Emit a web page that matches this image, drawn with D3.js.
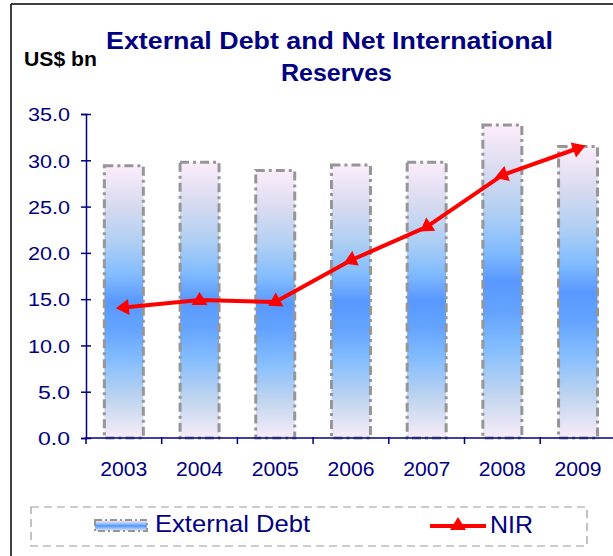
<!DOCTYPE html>
<html>
<head>
<meta charset="utf-8">
<script src="https://cdn.jsdelivr.net/npm/d3@7"></script>
<style>
  html, body { margin: 0; padding: 0; background: #fff; }
  svg { display: block; }
  text { font-family: "Liberation Sans", Arial, sans-serif; }
</style>
</head>
<body>
<svg id="chart" width="613" height="556"></svg>
<script>
// Annual figures, US$ billions
const years = ["2003", "2004", "2005", "2006", "2007", "2008", "2009"];
const externalDebt = [29.4, 29.8, 28.9, 29.5, 29.8, 33.8, 31.5];
const nir = [14.1, 14.9, 14.7, 19.2, 22.8, 28.4, 31.3];
const yTicks = [0, 5, 10, 15, 20, 25, 30, 35];
const titleLines = ["External Debt and Net International", "Reserves"];
const unitLabel = "US$ bn";
const legendLabels = ["External Debt", "NIR"];

const NAVY = "#000080";
const svg = d3.select("#chart");

// outer frame (left and top edges visible)
svg.append("line").attr("x1", 11).attr("x2", 11).attr("y1", 4).attr("y2", 556)
  .attr("stroke", "#000").attr("stroke-width", 1.5);
svg.append("line").attr("x1", 11).attr("x2", 613).attr("y1", 4).attr("y2", 4)
  .attr("stroke", "#000").attr("stroke-width", 1.5);

// bar gradient: pale at both ends, saturated blue in the middle
const defs = svg.append("defs");
const grad = defs.append("linearGradient").attr("id", "barGrad")
  .attr("x1", 0).attr("y1", 0).attr("x2", 0).attr("y2", 1);
[[0, "#fcedfb"], [0.14, "#dadbf0"], [0.28, "#b0cff3"], [0.4, "#82bcfe"],
 [0.5, "#5898ff"], [0.6, "#64a4ff"], [0.72, "#86befd"], [0.86, "#c0d5ef"], [1, "#f8ecf8"]]
  .forEach(([o, c]) => grad.append("stop").attr("offset", o).attr("stop-color", c));

// scales
const plotLeft = 86, plotBottom = 438, plotTop = 114;
const step = 75.7;
const x = d3.scaleBand().domain(years)
  .range([plotLeft, plotLeft + step * years.length])
  .paddingInner(0.485).paddingOuter(0.2425);
const y = d3.scaleLinear().domain([0, 35]).range([plotBottom, plotTop]);

// bars
svg.append("g").selectAll("rect").data(years).join("rect")
  .attr("x", d => x(d))
  .attr("y", (d, i) => y(externalDebt[i]))
  .attr("width", x.bandwidth())
  .attr("height", (d, i) => y(0) - y(externalDebt[i]))
  .attr("fill", "url(#barGrad)")
  .attr("stroke", "#969696").attr("stroke-width", 3)
  .attr("stroke-dasharray", "9,4,3,4");

// y axis
const yAxis = svg.append("g").attr("transform", `translate(${plotLeft},0)`)
  .call(d3.axisLeft(y).tickValues(yTicks).tickFormat(d3.format(".1f")).tickSize(5).tickPadding(11));
yAxis.select(".domain").attr("stroke", NAVY).attr("stroke-width", 1.5);
yAxis.selectAll(".tick line").attr("stroke", NAVY).attr("x1", 5).attr("x2", -5).attr("stroke-width", 1.5);
yAxis.selectAll(".tick text").attr("fill", NAVY).attr("font-size", 19)
  .attr("textLength", 42).attr("lengthAdjust", "spacingAndGlyphs")
  .attr("dy", "0.36em")
  .each(function (d) { if (d < 10) d3.select(this).attr("textLength", 32); });

// x axis: line, boundary ticks, centred labels
const xg = svg.append("g");
xg.append("line").attr("x1", plotLeft).attr("x2", 613).attr("y1", plotBottom).attr("y2", plotBottom)
  .attr("stroke", NAVY).attr("stroke-width", 1.5);
xg.selectAll("line.b").data(years).join("line").attr("class", "b")
  .attr("x1", d => x(d) - x.step() * x.paddingOuter())
  .attr("x2", d => x(d) - x.step() * x.paddingOuter())
  .attr("y1", plotBottom - 1).attr("y2", plotBottom + 6)
  .attr("stroke", NAVY).attr("stroke-width", 1.5);
xg.selectAll("text").data(years).join("text")
  .attr("x", d => x(d) + x.bandwidth() / 2)
  .attr("y", 476)
  .attr("text-anchor", "middle")
  .attr("fill", NAVY).attr("font-size", 20)
  .attr("textLength", 47).attr("lengthAdjust", "spacingAndGlyphs")
  .text(d => d);

// NIR line with triangle markers
const pts = years.map((d, i) => [x(d) + x.bandwidth() / 2, y(nir[i])]);
svg.append("path")
  .attr("d", d3.line()(pts))
  .attr("fill", "none").attr("stroke", "#ff0000").attr("stroke-width", 4)
  .attr("stroke-linejoin", "round");

const tri = "M0,-8L8,5L-8,5Z";
// each marker points along the segment arriving from its neighbour
function markerAngle(i) {
  const a = i < pts.length - 1 ? pts[i + 1] : pts[i - 1];
  const b = pts[i];
  const ang = Math.atan2(b[1] - a[1], b[0] - a[0]) * 180 / Math.PI;
  if (Math.abs(Math.abs(ang) - 180) < 4 || Math.abs(ang) < 4) return 0;
  return ang + 90;
}
svg.append("g").selectAll("path").data(pts).join("path")
  .attr("d", tri)
  .attr("transform", (p, i) => `translate(${p[0]},${p[1]}) rotate(${markerAngle(i)})`)
  .attr("fill", "#ff0000");

// title and unit label
svg.append("text").attr("x", 106).attr("y", 49).attr("font-size", 24).attr("font-weight", "bold")
  .attr("fill", NAVY).attr("textLength", 447).attr("lengthAdjust", "spacingAndGlyphs")
  .text(titleLines[0]);
svg.append("text").attr("x", 281).attr("y", 81).attr("font-size", 24).attr("font-weight", "bold")
  .attr("fill", NAVY).attr("textLength", 111).attr("lengthAdjust", "spacingAndGlyphs")
  .text(titleLines[1]);
svg.append("text").attr("x", 24).attr("y", 66).attr("font-size", 21).attr("font-weight", "bold")
  .attr("fill", "#000").attr("textLength", 73).attr("lengthAdjust", "spacingAndGlyphs")
  .text(unitLabel);

// legend
const lg = svg.append("g");
lg.append("rect").attr("x", 31).attr("y", 507).attr("width", 556).attr("height", 39)
  .attr("fill", "none").attr("stroke", "#999").attr("stroke-width", 1.2)
  .attr("stroke-dasharray", "8,5");
lg.append("rect").attr("x", 95).attr("y", 520).attr("width", 52).attr("height", 11)
  .attr("fill", "url(#barGrad)").attr("stroke", "#969696").attr("stroke-width", 2)
  .attr("stroke-dasharray", "7,3,2,3");
lg.append("text").attr("x", 155).attr("y", 532).attr("font-size", 24).attr("fill", NAVY)
  .attr("textLength", 155).attr("lengthAdjust", "spacingAndGlyphs")
  .text(legendLabels[0]);
lg.append("line").attr("x1", 430).attr("x2", 486).attr("y1", 526).attr("y2", 526)
  .attr("stroke", "#ff0000").attr("stroke-width", 4);
lg.append("path").attr("d", tri).attr("transform", "translate(458,525)").attr("fill", "#ff0000");
lg.append("text").attr("x", 490).attr("y", 533).attr("font-size", 24).attr("fill", NAVY)
  .attr("textLength", 43).attr("lengthAdjust", "spacingAndGlyphs")
  .text(legendLabels[1]);
</script>
</body>
</html>
